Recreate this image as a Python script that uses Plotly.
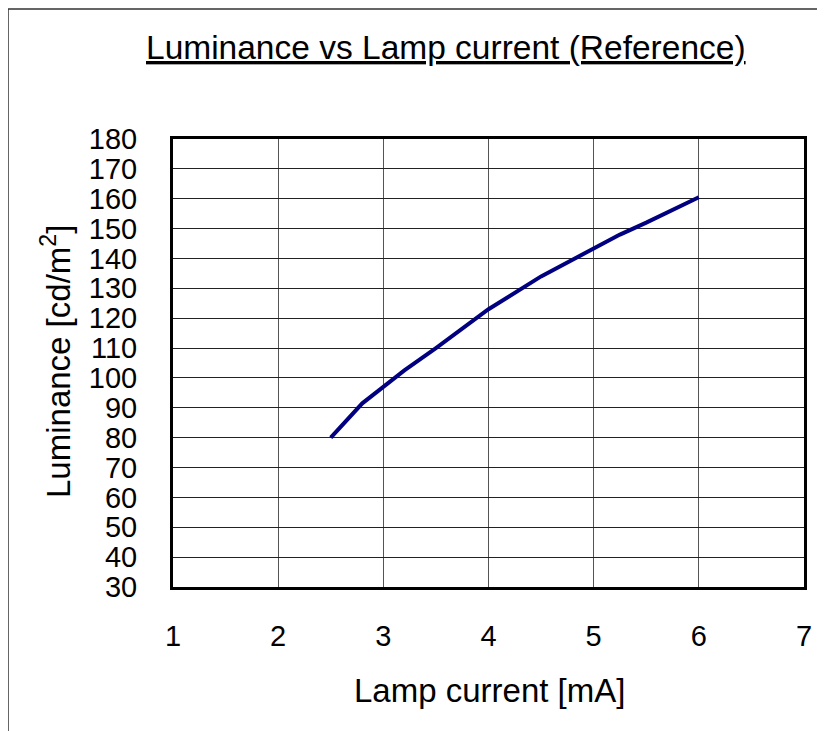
import plotly.graph_objects as go

# Data
lamp_current_mA = [2.5, 2.8, 3.0, 3.2, 3.5, 4.0, 4.5, 5.0, 5.25, 5.5, 6.0]
luminance_cd_m2 = [80, 91.5, 97, 102.5, 110, 123, 134, 143.5, 148, 152, 160.5]

x_ticks = [1, 2, 3, 4, 5, 6, 7]
y_ticks = list(range(30, 181, 10))

title_text = "Luminance vs Lamp current (Reference)"
x_title = "Lamp current [mA]"
y_title = "Luminance [cd/m<sup>2</sup>]"

FONT = "Liberation Sans, Arial, sans-serif"

W, H = 825, 731
OFF = 8  # page body margin offset
# target plot area in page pixels: left 173, right 804, top 139, bottom 587
L = 173 - OFF
T = 139 - OFF
R = W - (804 - OFF)
B = H - (587 - OFF)
pw = W - L - R
ph = H - T - B


def px(x):
    # page pixel -> paper fraction
    return (x - OFF - L) / pw


def py(y):
    return (H - B - (y - OFF)) / ph


fig = go.Figure()
fig.add_trace(go.Scatter(
    x=lamp_current_mA, y=luminance_cd_m2, mode="lines",
    line=dict(color="#000080", width=4), showlegend=False,
))

fig.update_layout(
    width=W, height=H,
    margin=dict(l=L, r=R, t=T, b=B),
    paper_bgcolor="white", plot_bgcolor="white",
    font=dict(family=FONT, color="black"),
    showlegend=False,
)

fig.update_xaxes(
    range=[1, 7], tickvals=x_ticks, ticktext=[str(v) for v in x_ticks],
    showgrid=True, gridcolor="#555555", gridwidth=1,
    showline=True, linecolor="black", linewidth=3, mirror=True,
    ticks="", zeroline=False,
    tickfont=dict(size=29, family=FONT, color="black"),
    ticklabelstandoff=21,
)
fig.update_yaxes(
    range=[30, 180], tickvals=y_ticks, ticktext=[str(v) for v in y_ticks],
    showgrid=True, gridcolor="#222222", gridwidth=1,
    showline=True, linecolor="black", linewidth=3, mirror=True,
    ticks="", zeroline=False,
    tickfont=dict(size=29, family=FONT, color="black"),
    ticklabelstandoff=27,
)

# Title (underlined)
fig.add_annotation(
    x=px(446), y=py(47), xref="paper", yref="paper",
    text="<u>" + title_text + "</u>", showarrow=False,
    font=dict(size=33.5, family=FONT, color="black"),
    xanchor="center", yanchor="middle",
)
# Axis titles
fig.add_annotation(
    x=px(489), y=py(690), xref="paper", yref="paper",
    text=x_title, showarrow=False,
    font=dict(size=33, family=FONT, color="black"),
    xanchor="center", yanchor="middle",
)
fig.add_annotation(
    x=px(56), y=py(362), xref="paper", yref="paper",
    text=y_title, showarrow=False, textangle=-90,
    font=dict(size=33, family=FONT, color="black"),
    xanchor="center", yanchor="middle",
)

# Outer chart border (runs off right/bottom as in reference)
fig.add_shape(
    type="rect", xref="paper", yref="paper",
    x0=px(8), x1=px(860), y0=py(760), y1=py(OFF + 1),
    line=dict(color="#333333", width=1.5), fillcolor="rgba(0,0,0,0)",
)

fig.write_html("out.html")
